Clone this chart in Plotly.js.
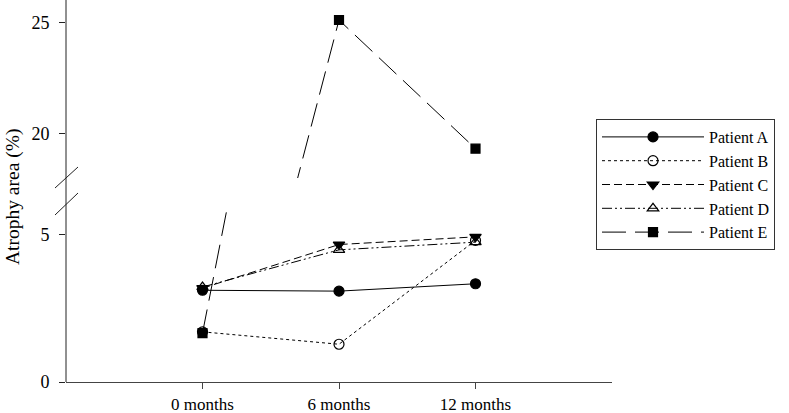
<!DOCTYPE html>
<html>
<head>
<meta charset="utf-8">
<script src="https://cdn.plot.ly/plotly-3.0.1.min.js"></script>
<style>html,body{margin:0;padding:0;background:#fff;}#chart{width:789px;height:413px;}</style>
</head>
<body>
<div id="chart"></div>
<script>
// ---- data ----
const categories = ["0 months", "6 months", "12 months"];
const patientNames = ["Patient A", "Patient B", "Patient C", "Patient D", "Patient E"];
const patientA = [3.11, 3.08, 3.33];
const patientB = [1.70, 1.28, 4.80];
const patientC = [3.18, 4.66, 4.92];
const patientD = [3.22, 4.48, 4.74];
const patientE = [1.66, 25.10, 19.32];
const lowerTicks = [0, 5];
const upperTicks = [20, 25];
const lowerRange = [0, 6];
const upperRange = [18, 26];

const seriesValues = [patientA, patientB, patientC, patientD, patientE];
const styles = [
  {dash: "solid", symbol: "circle", size: 10},
  {dash: "dot", symbol: "circle-open", size: 10},
  {dash: "8px,4px", symbol: "triangle-down", size: 10},
  {dash: "10px,3px,2px,3px,2px,3px", symbol: "triangle-up-open", size: 10},
  {dash: "24px,9px", symbol: "square", size: 9}
];

const traces = [];
["y", "y2"].forEach((ax, k) => {
  seriesValues.forEach((vals, i) => {
    const s = styles[i];
    traces.push({
      x: categories, y: vals, yaxis: ax, type: "scatter", mode: "lines+markers",
      name: patientNames[i], showlegend: k === 0, legendgroup: patientNames[i],
      line: {color: "#000", width: 1, dash: s.dash},
      marker: {symbol: s.symbol, size: s.size, color: "#000", line: {color: "#000", width: 1.2}}
    });
  });
});

const H = 382;
const lowerTop = (H - 205) / H;
const upperBot = (H - 178) / H;
const family = "Liberation Serif, Times New Roman, serif";
const tickFnt = {family: family, size: 18, color: "#000"};
const xTickFnt = {family: family, size: 17, color: "#000"};
const legFnt = {family: family, size: 16, color: "#000"};

function px2x(p) { return (p - 66) / 546; }
function px2y(p) { return (H - p) / H; }

const layout = {
  width: 789, height: 413,
  margin: {l: 66, r: 177, t: 0, b: 31},
  paper_bgcolor: "#fff", plot_bgcolor: "#fff",
  font: tickFnt,
  showlegend: true,
  xaxis: {
    type: "category", range: [-1, 3], showgrid: false, zeroline: false,
    showline: true, linecolor: "#444", linewidth: 1,
    ticks: "outside", ticklen: 6, tickcolor: "#444", tickfont: xTickFnt, anchor: "y",
    ticklabelstandoff: 1
  },
  yaxis: {
    domain: [0, lowerTop], range: lowerRange, tickvals: lowerTicks,
    showgrid: false, zeroline: false, showline: false,
    ticks: "outside", ticklen: 6, tickcolor: "#222", tickfont: tickFnt, ticklabelstandoff: 6
  },
  yaxis2: {
    domain: [upperBot, 1], range: upperRange, tickvals: upperTicks,
    showgrid: false, zeroline: false, showline: false,
    ticks: "outside", ticklen: 6, tickcolor: "#222", tickfont: tickFnt, ticklabelstandoff: 6, anchor: "x"
  },
  legend: {
    x: px2x(596), y: px2y(119), xanchor: "left", yanchor: "top",
    bordercolor: "#333", borderwidth: 1, bgcolor: "#fff",
    font: legFnt, itemwidth: 102, tracegroupgap: 0
  },
  shapes: [
    {type: "line", xref: "paper", yref: "paper", x0: 0, x1: 0, y0: 0, y1: 1, line: {color: "#222", width: 1}},
    {type: "line", xref: "paper", yref: "paper", x0: px2x(55), x1: px2x(78), y0: px2y(188), y1: px2y(167), line: {color: "#222", width: 1}},
    {type: "line", xref: "paper", yref: "paper", x0: px2x(55), x1: px2x(78), y0: px2y(215), y1: px2y(193), line: {color: "#222", width: 1}}
  ],
  annotations: [
    {text: "Atrophy area (%)", textangle: -90, xref: "paper", yref: "paper",
     x: px2x(13), y: px2y(197), xanchor: "center", yanchor: "middle", showarrow: false,
     font: {family: family, size: 19.5, color: "#000"}}
  ]
};

Plotly.newPlot("chart", traces, layout, {displayModeBar: false, staticPlot: true});
</script>
</body>
</html>
